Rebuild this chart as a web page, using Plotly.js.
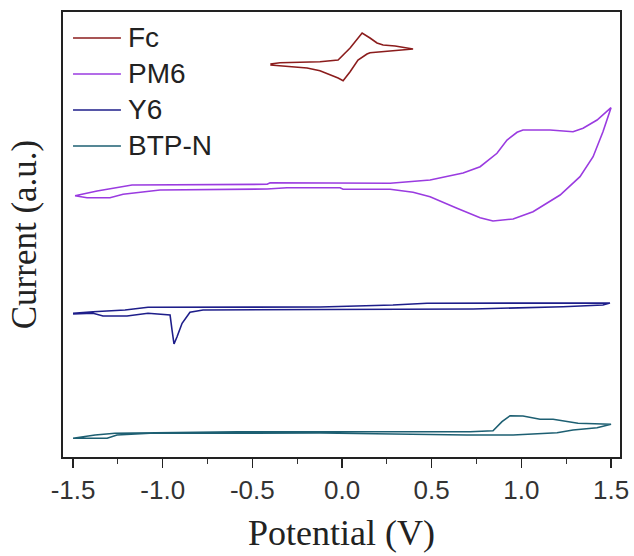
<!DOCTYPE html>
<html>
<head>
<meta charset="utf-8">
<script src="https://cdn.plot.ly/plotly-3.0.1.min.js"></script>
<style>html,body{margin:0;padding:0;background:#fff;}#chart{width:634px;height:556px;}</style>
</head>
<body>
<div id="chart"></div>
<script>
// Potential (V) and current (a.u.)
var fcV = [-0.40,-0.346,-0.123,-0.022,0.045,0.112,0.156,0.195,0.229,0.296,0.396,0.296,0.156,0.139,0.089,0.045,0.006,-0.022,-0.067,-0.123,-0.195,-0.307,-0.40];
var fcI = [393,394.3,395.3,397,409,424,419,414,412,411,408,406.3,404.3,403,397,385.3,376.3,379,382,386.3,389,391,392];

var pm6V = [-1.489,-1.366,-1.171,-0.418,-0.401,0.268,0.491,0.675,0.770,0.864,0.920,0.976,1.009,1.160,1.288,1.344,1.422,1.50,1.455,1.400,1.327,1.216,1.065,0.954,0.842,0.770,0.641,0.491,0.396,0.268,0.006,-0.011,-0.307,-0.418,-1.015,-1.221,-1.294,-1.422,-1.489];
var pm6I = [261.3,266,272,272.7,274.3,273.7,277,284,290.3,303.7,317,324.7,327,327,325.3,328.7,337,349.3,325.3,300.3,280.3,262,245.3,238,236,239.3,248.7,260.3,264.7,267.7,267.7,269.3,269.3,268,267,262.7,259.3,259.3,261.3];

var y6V = [-1.500,-1.388,-1.210,-1.082,-0.123,0.284,0.474,1.494,1.455,1.232,0.731,-0.123,-0.775,-0.848,-0.892,-0.920,-0.937,-0.948,-0.959,-1.082,-1.199,-1.333,-1.388,-1.500];
var y6I = [143.7,145.3,147,149.7,150,152,153.7,154,152,150.3,148,147.7,147,144.7,133.7,120.3,113,127,142,143.7,141,141,143.7,143];

var btpV = [-1.500,-1.377,-1.266,-0.586,0.714,0.842,0.892,0.937,1.009,1.104,1.177,1.316,1.50,1.422,1.288,1.199,0.954,0.697,-0.123,-1.071,-1.255,-1.310,-1.500];
var btpI = [18.7,22,23.7,25.3,25.3,26.3,35.3,41.3,41,37.7,37.7,33.7,32.7,29.3,27,24.3,22,22,24,23.7,22,18.7,18.7];

var seriesNames = ['Fc','PM6','Y6','BTP-N'];
var seriesColors = ['#8b1c1c','#9a3be0','#1e1e8a','#1d5f72'];
var xTicks = [-1.5,-1.0,-0.5,0.0,0.5,1.0,1.5];
var xTickText = ['-1.5','-1.0','-0.5','0.0','0.5','1.0','1.5'];

var xs = [fcV, pm6V, y6V, btpV];
var ys = [fcI, pm6I, y6I, btpI];
var traces = seriesNames.map(function(n, i){
  return {x: xs[i], y: ys[i], name: n, mode: 'lines', type: 'scatter',
    line: {color: seriesColors[i], width: 1.6}};
});

// legend drawn as paper-positioned shapes + text
var legY0 = 0.9416, legStep = 0.0809;
var shapes = [], annotations = [];
seriesNames.forEach(function(n, i){
  var yy = legY0 - i * legStep;
  shapes.push({type: 'line', xref: 'paper', yref: 'paper', x0: 0.018, x1: 0.104, y0: yy, y1: yy,
    line: {color: seriesColors[i], width: 1.6}});
  annotations.push({xref: 'paper', yref: 'paper', x: 0.113, y: yy, xanchor: 'left', yanchor: 'middle',
    text: n, showarrow: false,
    font: {family: 'Liberation Sans, Arial, sans-serif', size: 28, color: '#222'}});
});

var layout = {
  width: 634, height: 556,
  margin: {l: 63, r: 14, t: 12, b: 99},
  paper_bgcolor: '#fff', plot_bgcolor: '#fff',
  showlegend: false,
  shapes: shapes, annotations: annotations,
  xaxis: {range: [-1.556, 1.55], tickvals: xTicks, ticktext: xTickText,
    ticks: 'outside', ticklen: 9, tickwidth: 1.5, tickcolor: '#222',
    minor: {dtick: 0.25, tick0: -1.5, ticks: 'outside', ticklen: 5, tickwidth: 1.2, tickcolor: '#333'},
    showline: true, linecolor: '#222', linewidth: 2, mirror: true,
    showgrid: false, zeroline: false,
    tickfont: {family: 'Liberation Sans, Arial, sans-serif', size: 26, color: '#333'},
    title: {text: 'Potential (V)', standoff: 16,
      font: {family: 'Liberation Serif, Times New Roman, serif', size: 36, color: '#222'}}},
  yaxis: {range: [0, 445], showticklabels: false, ticks: '',
    showline: true, linecolor: '#222', linewidth: 2, mirror: true,
    showgrid: false, zeroline: false,
    title: {text: 'Current (a.u.)', standoff: 14,
      font: {family: 'Liberation Serif, Times New Roman, serif', size: 35, color: '#222'}}}
};

Plotly.newPlot('chart', traces, layout, {displayModeBar: false, staticPlot: true});
</script>
</body>
</html>
